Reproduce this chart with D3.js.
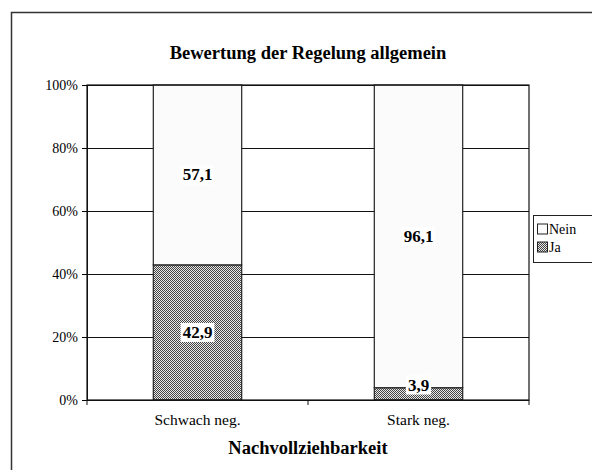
<!DOCTYPE html>
<html><head><meta charset="utf-8">
<script src="https://cdn.jsdelivr.net/npm/d3@7"></script>
<style>body{margin:0;background:#fff}svg{display:block;font-family:"Liberation Serif","Times New Roman",serif}</style>
</head><body><svg id="c" width="592" height="470"></svg>
<script>
const categories = ["Schwach neg.", "Stark neg."];
const jaValues = [42.9, 3.9];
const neinValues = [57.1, 96.1];
const yTicks = [0, 20, 40, 60, 80, 100];
const title = "Bewertung der Regelung allgemein";
const xTitle = "Nachvollziehbarkeit";
const seriesNames = ["Nein", "Ja"];

const svg = d3.select("#c");
const defs = svg.append("defs");
const pat = defs.append("pattern").attr("id","chk").attr("width",2).attr("height",2).attr("patternUnits","userSpaceOnUse");
pat.append("rect").attr("width",2).attr("height",2).attr("fill","#e8e8e8");
pat.append("rect").attr("x",0).attr("y",0).attr("width",1).attr("height",1).attr("fill","#444");
pat.append("rect").attr("x",1).attr("y",1).attr("width",1).attr("height",1).attr("fill","#444");

// outer border
svg.append("rect").attr("x",11.5).attr("y",12.5).attr("width",600).attr("height",500)
  .attr("fill","none").attr("stroke","#333").attr("stroke-width",1.5);

const L=87, R=529, T=85, B=400;
const x = d3.scaleBand().domain(categories).range([L,R]).paddingInner(0.6).paddingOuter(0.3);
const y = d3.scaleLinear().domain([0,100]).range([B,T]);

// gridlines
svg.append("g").selectAll("line").data(yTicks).join("line")
  .attr("x1",L).attr("x2",R).attr("y1",d=>y(d)+0.5).attr("y2",d=>y(d)+0.5)
  .attr("stroke","#111").attr("stroke-width",1);

// bars
const g = svg.append("g");
categories.forEach((c,i)=>{
  g.append("rect").attr("x",x(c)).attr("width",x.bandwidth())
    .attr("y",y(jaValues[i])).attr("height",y(0)-y(jaValues[i]))
    .attr("fill","url(#chk)").attr("stroke","#222").attr("stroke-width",1.2);
  g.append("rect").attr("x",x(c)).attr("width",x.bandwidth())
    .attr("y",y(jaValues[i]+neinValues[i])).attr("height",y(jaValues[i])-y(jaValues[i]+neinValues[i]))
    .attr("fill","#fbfbfb").attr("stroke","#222").attr("stroke-width",1.2);
});

// plot border
svg.append("rect").attr("x",L).attr("y",T).attr("width",R-L).attr("height",B-T)
  .attr("fill","none").attr("stroke","#111").attr("stroke-width",1.2);

// y axis
const yAxis = svg.append("g").attr("transform",`translate(${L},0)`)
  .call(d3.axisLeft(y).tickValues(yTicks).tickFormat(d=>d+"%").tickSize(5).tickPadding(4));
yAxis.select(".domain").attr("stroke","#111");
yAxis.selectAll("text").attr("font-size",14).attr("font-family","Liberation Serif").attr("fill","#000");

// x axis
const xAxis = svg.append("g").attr("transform",`translate(0,${B})`)
  .call(d3.axisBottom(x).tickSize(0).tickPadding(14));
xAxis.select(".domain").remove();
xAxis.selectAll("text").attr("font-size",15.5).attr("font-family","Liberation Serif").attr("fill","#000");
const bounds = [L, (x(categories[0])+x.bandwidth()+x(categories[1]))/2, R];
svg.append("g").selectAll("line").data(bounds).join("line")
  .attr("x1",d=>d).attr("x2",d=>d).attr("y1",B).attr("y2",B+5).attr("stroke","#111");

// labels
function label(txt, cx, cy){
  const t = svg.append("text").attr("x",cx).attr("y",cy).attr("text-anchor","middle")
    .attr("dominant-baseline","central").attr("font-size",17).attr("font-weight","bold").text(txt);
  const bb = t.node().getBBox();
  svg.insert("rect", () => t.node()).attr("x",bb.x-2).attr("y",bb.y).attr("width",bb.width+4).attr("height",bb.height)
    .attr("fill","#fff");
}
categories.forEach((c,i)=>{
  const cx = x(c)+x.bandwidth()/2;
  const jaC = Math.min((y(0)+y(jaValues[i]))/2, B-15);
  label(String(jaValues[i]).replace(".",","), cx, jaC);
  label(String(neinValues[i]).replace(".",","), cx, (y(jaValues[i])+y(jaValues[i]+neinValues[i]))/2);
});

// title
svg.append("text").attr("x",308).attr("y",59).attr("text-anchor","middle")
  .attr("font-size",18.5).attr("font-weight","bold").text(title);
svg.append("text").attr("x",308).attr("y",454).attr("text-anchor","middle")
  .attr("font-size",18.5).attr("font-weight","bold").text(xTitle);

// legend
const lg = svg.append("g");
lg.append("rect").attr("x",533.5).attr("y",215.5).attr("width",70).attr("height",47)
  .attr("fill","#fff").attr("stroke","#222").attr("stroke-width",1);
const fills = ["#fbfbfb","url(#chk)"];
seriesNames.forEach((s,i)=>{
  const yy = 229 + i*18;
  lg.append("rect").attr("x",537.5).attr("y",yy-5).attr("width",10).attr("height",10)
    .attr("fill",fills[i]).attr("stroke","#222").attr("stroke-width",1);
  lg.append("text").attr("x",549).attr("y",yy).attr("dominant-baseline","central")
    .attr("font-size",14).text(s);
});
</script></body></html>
